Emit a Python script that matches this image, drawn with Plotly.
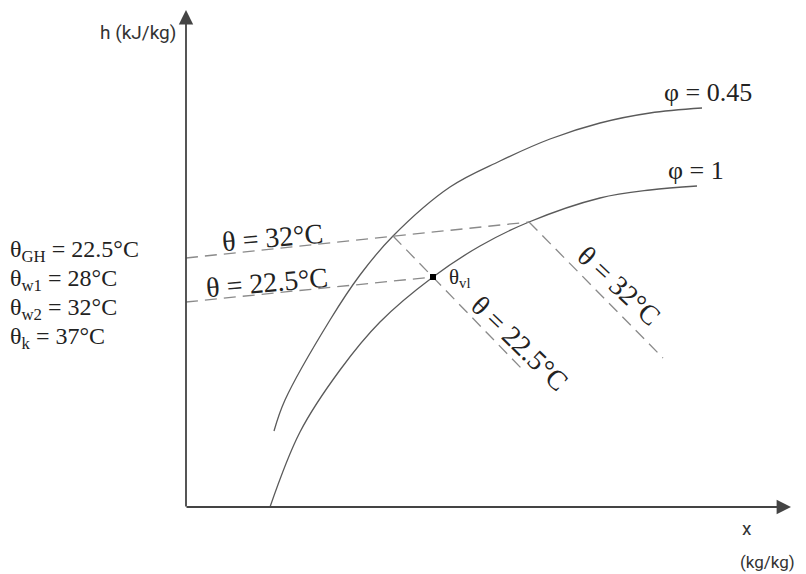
import plotly.graph_objects as go

# Diagram coordinates: origin at the axis corner, x to the right, h upward (px-like units)
# Saturation curves (h-x diagram)
phi045_x = [88, 99, 144, 174, 207, 264, 314, 364, 414, 464, 516]
phi045_h = [76, 107, 187, 232, 271, 320, 346, 368, 384, 394, 399]
phi1_x = [84, 114, 154, 194, 247, 294, 343, 414, 464, 511]
phi1_h = [0, 75, 137, 185, 230, 261, 285, 309, 317, 321]

# Isotherms (dashed)
iso32_x = [0, 343]
iso32_h = [249, 285]
iso225_x = [0, 247]
iso225_h = [205, 230]
# Wet-bulb lines (dashed)
wb225_x = [207, 247, 337]
wb225_h = [271, 230, 137]
wb32_x = [343, 477]
wb32_h = [285, 149]

# State point
pt_x = [247]
pt_h = [230]

left_labels = ["θ<sub>GH</sub> = 22.5°C", "θ<sub>w1</sub> = 28°C",
               "θ<sub>w2</sub> = 32°C", "θ<sub>k</sub> = 37°C"]
left_label_h = [256, 227, 198, 169]

curve_col = "#5a5a5a"
dash_col = "#8a8a8a"
txt_col = "#222222"
serif = "Liberation Serif"

fig = go.Figure()
fig.add_trace(go.Scatter(x=phi045_x, y=phi045_h, mode="lines",
                         line=dict(color=curve_col, width=1.3, shape="spline", smoothing=1.0), hoverinfo="skip"))
fig.add_trace(go.Scatter(x=phi1_x, y=phi1_h, mode="lines",
                         line=dict(color=curve_col, width=1.3, shape="spline", smoothing=1.0), hoverinfo="skip"))
for xs, hs in [(iso32_x, iso32_h), (iso225_x, iso225_h), (wb225_x, wb225_h), (wb32_x, wb32_h)]:
    fig.add_trace(go.Scatter(x=xs, y=hs, mode="lines",
                             line=dict(color=dash_col, width=1.3, dash="12px,7px"), hoverinfo="skip"))
fig.add_trace(go.Scatter(x=pt_x, y=pt_h, mode="markers",
                         marker=dict(color="black", size=6, symbol="square"), hoverinfo="skip"))

# Axes with arrows
fig.add_annotation(x=0, y=497, ax=0, ay=-1, xref="x", yref="y", axref="x", ayref="y",
                   showarrow=True, arrowhead=2, arrowsize=1.6, arrowwidth=1.8, arrowcolor="#444", text="")
fig.add_annotation(x=605, y=0, ax=-1, ay=0, xref="x", yref="y", axref="x", ayref="y",
                   showarrow=True, arrowhead=2, arrowsize=1.6, arrowwidth=1.8, arrowcolor="#444", text="")

axfont = dict(family="Roboto", size=19, color="#333")
fig.add_annotation(x=-8, y=475, text="h (kJ/kg)", showarrow=False, xanchor="right", font=axfont)
fig.add_annotation(x=561, y=-21, text="x", showarrow=False, xanchor="center", font=axfont)
fig.add_annotation(x=552, y=-55, text="(kg/kg)", showarrow=False, xanchor="left",
                   font=dict(family="Roboto", size=17, color="#333"))

# Left parameter list
for t, hv in zip(left_labels, left_label_h):
    fig.add_annotation(x=-178, y=hv, text=t, showarrow=False, xanchor="left",
                       font=dict(family=serif, size=24, color=txt_col))

sf = dict(family=serif, size=28, color=txt_col)
fig.add_annotation(x=86, y=270, text="θ = 32°C", showarrow=False, textangle=-5, font=sf)
fig.add_annotation(x=81, y=225, text="θ = 22.5°C", showarrow=False, textangle=-5, font=sf)
fig.add_annotation(x=274, y=229, text="θ<sub>vl</sub>", showarrow=False, font=dict(family=serif, size=21, color=txt_col))
fig.add_annotation(x=334, y=164, text="θ = 22.5°C", showarrow=False, textangle=44, font=sf)
fig.add_annotation(x=433, y=222, text="θ = 32°C", showarrow=False, textangle=43, font=sf)
fig.add_annotation(x=522, y=415, text="φ = 0.45", showarrow=False, font=dict(family=serif, size=26, color=txt_col))
fig.add_annotation(x=510, y=337, text="φ = 1", showarrow=False, font=dict(family=serif, size=26, color=txt_col))

fig.update_layout(
    width=798, height=566, margin=dict(l=0, r=0, t=0, b=0),
    paper_bgcolor="white", plot_bgcolor="white", showlegend=False,
    xaxis=dict(range=[-178, 620], visible=False, fixedrange=True),
    yaxis=dict(range=[-67, 499], visible=False, fixedrange=True),
)
fig.write_html("out.html")
